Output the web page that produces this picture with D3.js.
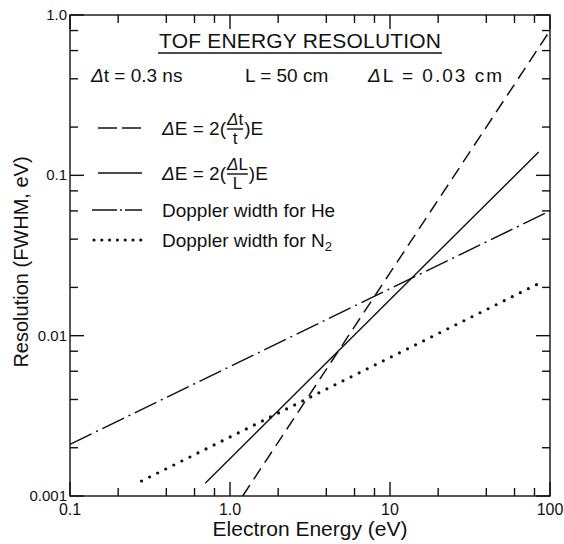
<html>
<head>
    <script src="https://d3js.org/d3.v7.min.js"></script>
    <style>
        body { margin: 0; background: #fff; }
        text { font-family: "Liberation Sans", Arial, sans-serif; fill: #111; }
    </style>
</head>
<body>
    <svg id="svg" width="564" height="544"></svg>
    <script>
        // axis ticks
        const xMajor = [0.1, 1, 10, 100];
        const xLabels = ["0.1", "1.0", "10", "100"];
        const xMinor = [0.2, 0.4, 0.6, 0.8, 2, 4, 6, 8, 20, 40, 60, 80];
        const yMajor = [0.001, 0.01, 0.1, 1];
        const yLabels = ["0.001", "0.01", "0.1", "1.0"];
        const yMinor = [0.002, 0.004, 0.006, 0.008, 0.02, 0.04, 0.06, 0.08, 0.2, 0.4, 0.6, 0.8];

        // curves (straight on log-log at the ends)
        const energyDt = [1.2, 100];
        const resDt = [0.001, 0.8];
        const energyDL = [0.7, 85];
        const resDL = [0.0012, 0.14];
        const energyHe = [0.1, 100];
        const resHe = [0.0021, 0.06];
        const energyN2 = [0.28, 88];
        const resN2 = [0.00124, 0.0215];

        const svg = d3.select("#svg");
        const margin = { top: 15, right: 14, bottom: 48, left: 70 };
        const width = +svg.attr("width");
        const height = +svg.attr("height");

        const x = d3.scaleLog().domain([0.1, 100]).range([margin.left, width - margin.right]);
        const y = d3.scaleLog().domain([0.001, 1]).range([height - margin.bottom, margin.top]);
        const [x0, x1] = x.range();
        const [y0, y1] = y.range();

        const axes = svg.append("g").attr("stroke", "#111").attr("stroke-width", 1.4);
        axes.append("rect")
            .attr("x", x0).attr("y", y1)
            .attr("width", x1 - x0).attr("height", y0 - y1)
            .attr("fill", "none");

        const bigTick = 14, smallTick = 8;
        const xt = xMajor.map(v => [v, bigTick]).concat(xMinor.map(v => [v, smallTick]));
        const yt = yMajor.map(v => [v, bigTick]).concat(yMinor.map(v => [v, smallTick]));

        xt.forEach(([v, len]) => {
            axes.append("line").attr("x1", x(v)).attr("x2", x(v)).attr("y1", y0).attr("y2", y0 - len);
            axes.append("line").attr("x1", x(v)).attr("x2", x(v)).attr("y1", y1).attr("y2", y1 + len);
        });
        yt.forEach(([v, len]) => {
            axes.append("line").attr("y1", y(v)).attr("y2", y(v)).attr("x1", x0).attr("x2", x0 + len);
            axes.append("line").attr("y1", y(v)).attr("y2", y(v)).attr("x1", x1).attr("x2", x1 - len);
        });

        svg.selectAll("text.xlab").data(xMajor)
            .join("text")
            .attr("class", "xlab")
            .attr("x", d => x(d))
            .attr("y", y0 + 19)
            .style("text-anchor", "middle")
            .style("font-size", "16px")
            .text((d, i) => xLabels[i]);

        svg.selectAll("text.ylab").data(yMajor)
            .join("text")
            .attr("class", "ylab")
            .attr("x", x0 - 3)
            .attr("y", d => y(d) + 5)
            .style("text-anchor", "end")
            .style("font-size", "15px")
            .text((d, i) => yLabels[i]);

        svg.append("text")
            .attr("x", 310)
            .attr("y", 536)
            .style("text-anchor", "middle")
            .style("font-size", "21px")
            .text("Electron Energy (eV)");

        svg.append("text")
            .attr("transform", "translate(28,262) rotate(-90)")
            .style("text-anchor", "middle")
            .style("font-size", "20px")
            .text("Resolution (FWHM, eV)");

        // curves
        const line = d3.line().x(d => x(d[0])).y(d => y(d[1]));
        const series = [
            { e: energyDt, r: resDt, dash: "13,7", w: 1.5, cap: "butt" },
            { e: energyDL, r: resDL, dash: null, w: 1.4, cap: "butt" },
            { e: energyHe, r: resHe, dash: "24,5,2,5", w: 1.5, cap: "butt" },
            { e: energyN2, r: resN2, dash: "0,9", w: 3.2, cap: "round" }
        ];
        svg.append("g").selectAll("path").data(series)
            .join("path")
            .attr("d", s => line(s.e.map((v, i) => [v, s.r[i]])))
            .attr("fill", "none")
            .attr("stroke", "#111")
            .attr("stroke-width", s => s.w)
            .attr("stroke-linecap", s => s.cap)
            .attr("stroke-dasharray", s => s.dash);

        // title block
        svg.append("text")
            .attr("x", 300).attr("y", 48)
            .style("text-anchor", "middle")
            .style("font-size", "21px")
            .attr("textLength", 282)
            .attr("lengthAdjust", "spacing")
            .text("TOF  ENERGY  RESOLUTION");
        svg.append("line")
            .attr("x1", 158).attr("x2", 442)
            .attr("y1", 53).attr("y2", 53)
            .attr("stroke", "#111").attr("stroke-width", 1.4);

        function deltaText(xp, yp, parts, size) {
            const t = svg.append("text").attr("x", xp).attr("y", yp).style("font-size", size);
            parts.forEach(p => {
                t.append("tspan")
                    .style("font-style", p[1] ? "italic" : "normal")
                    .text(p[0]);
            });
            return t;
        }
        deltaText(91, 82, [["Δ", true], ["t = 0.3 ns", false]], "19px");
        deltaText(245, 82, [["L = 50 cm", false]], "19px");
        deltaText(368, 82, [["Δ", true], ["L = 0.03 cm", false]], "19px")
            .attr("textLength", 134).attr("lengthAdjust", "spacing");

        // legend
        const legend = svg.append("g");
        const legendRows = [
            { y: 128, x1: 98, x2: 142, dash: "19,5", w: 1.5, cap: "butt" },
            { y: 173, x1: 98, x2: 142, dash: null, w: 1.4, cap: "butt" },
            { y: 210, x1: 92, x2: 142, dash: "25,3,2,3", w: 1.5, cap: "butt" },
            { y: 240, x1: 94, x2: 142, dash: "0,7.8", w: 3.2, cap: "round" }
        ];
        legend.selectAll("line").data(legendRows)
            .join("line")
            .attr("x1", d => d.x1).attr("x2", d => d.x2)
            .attr("y1", d => d.y).attr("y2", d => d.y)
            .attr("stroke", "#111")
            .attr("stroke-width", d => d.w)
            .attr("stroke-linecap", d => d.cap)
            .attr("stroke-dasharray", d => d.dash);

        function fracLegend(yp, num, den) {
            const t = deltaText(162, yp + 7, [["Δ", true], ["E = 2(", false]], "19px");
            const fx = 162 + t.node().getComputedTextLength() + 1;
            const n = deltaText(fx, yp - 3, [["Δ", true], [num, false]], "17px");
            const nw = n.node().getComputedTextLength();
            svg.append("line")
                .attr("x1", fx).attr("x2", fx + nw)
                .attr("y1", yp + 1).attr("y2", yp + 1)
                .attr("stroke", "#111").attr("stroke-width", 1.4);
            svg.append("text")
                .attr("x", fx + nw / 2).attr("y", yp + 16)
                .style("text-anchor", "middle")
                .style("font-size", "17px")
                .text(den);
            svg.append("text")
                .attr("x", fx + nw + 1).attr("y", yp + 7)
                .style("font-size", "19px")
                .text(")E");
        }
        fracLegend(128, "t", "t");
        fracLegend(173, "L", "L");

        svg.append("text").attr("x", 162).attr("y", 217).style("font-size", "19px")
            .text("Doppler width for He");
        const n2 = svg.append("text").attr("x", 162).attr("y", 247).style("font-size", "19px")
            .text("Doppler width for N");
        n2.append("tspan").attr("dy", 4).style("font-size", "13px").text("2");
    </script>
</body>
</html>
